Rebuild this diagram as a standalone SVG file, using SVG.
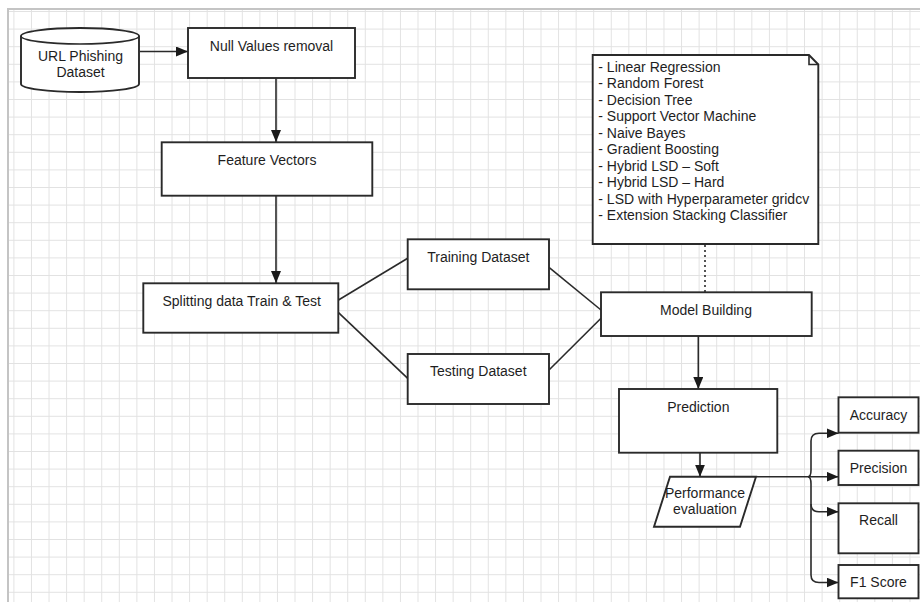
<svg xmlns="http://www.w3.org/2000/svg" width="920" height="602" viewBox="0 0 920 602">
<style>
.box{fill:#fff;stroke:#2a2a2a;stroke-width:1.9}
.ln{fill:none;stroke:#2a2a2a;stroke-width:1.6}
.t{font-family:"Liberation Sans",Arial,sans-serif;font-size:14px;fill:#1e1e1e;text-anchor:middle}
.nt{font-family:"Liberation Sans",Arial,sans-serif;font-size:14px;fill:#1e1e1e}
</style>
<defs>
<pattern id="grid" patternUnits="userSpaceOnUse" x="13.4" y="11" width="17.57" height="17.6">
<path d="M0,0.5 H17.57 M0.5,0 V17.6" fill="none" stroke="#e2e2e2" stroke-width="1"/>
</pattern>
<marker id="arr" markerUnits="userSpaceOnUse" markerWidth="12" markerHeight="10" refX="12" refY="5" orient="auto">
<path d="M0,0 L12,5 L0,10 z" fill="#1a1a1a"/>
</marker>
</defs>
<rect x="0" y="0" width="920" height="602" fill="#fff"/>
<rect x="8" y="9" width="914" height="596" fill="url(#grid)" stroke="#c4c4c4" stroke-width="2"/>

<g id="connectors">
<path class="ln" d="M140,51.5 H188" marker-end="url(#arr)"/>
<path class="ln" d="M276,78 V142" marker-end="url(#arr)"/>
<path class="ln" d="M276,196 V283" marker-end="url(#arr)"/>
<path class="ln" d="M338.5,300 L407.7,258.3"/>
<path class="ln" d="M338.5,312.7 L407.7,378.3"/>
<path class="ln" d="M549,267.3 L601,310"/>
<path class="ln" d="M549,370 L601,318.3"/>
<path class="ln" d="M705,245 V292" stroke-dasharray="2,3"/>
<path class="ln" d="M698.3,336 V389" marker-end="url(#arr)"/>
<path class="ln" d="M700,452.7 V476.7" marker-end="url(#arr)"/>
<path class="ln" d="M756,476.7 H838.5" marker-end="url(#arr)"/>
<path class="ln" d="M808,476.7 Q811,476.7 811,470 V441 Q811,433.3 819,433.3 H838.5" marker-end="url(#arr)"/>
<path class="ln" d="M808,476.7 Q811,476.7 811,484 V504 Q811,511.7 819,511.7 H838.5" marker-end="url(#arr)"/>
<path class="ln" d="M811,504 V575 Q811,582.5 819,582.5 H838.5" marker-end="url(#arr)"/>
</g>

<g id="dataset">
<path class="box" d="M21,36 A59,8 0 0 1 139,36 V84 A59,8 0 0 1 21,84 Z"/>
<path class="ln" d="M21,36 A59,8 0 0 0 139,36" stroke-width="1.9"/>
<text class="t" x="80.5" y="61">URL Phishing</text>
<text class="t" x="80.5" y="76.5">Dataset</text>
</g>
<g id="null-values">
<rect class="box" x="188" y="28" width="167" height="50"/>
<text class="t" x="271.5" y="51">Null Values removal</text>
</g>
<g id="feature-vectors">
<rect class="box" x="161.7" y="142.3" width="210.6" height="53.4"/>
<text class="t" x="267" y="165">Feature Vectors</text>
</g>
<g id="splitting">
<rect class="box" x="143.3" y="283.3" width="195" height="49.4"/>
<text class="t" x="241.7" y="305.5">Splitting data Train &amp; Test</text>
</g>
<g id="training">
<rect class="box" x="407.7" y="239.3" width="141.3" height="50"/>
<text class="t" x="478.3" y="261.5">Training Dataset</text>
</g>
<g id="testing">
<rect class="box" x="407.7" y="354" width="141.3" height="50"/>
<text class="t" x="478.3" y="375.5">Testing Dataset</text>
</g>
<g id="models-note">
<path class="box" d="M592.7,55 H809 L818.3,64.5 V244 H592.7 Z"/>
<path class="ln" d="M809,55 V64.5 H818.3" stroke-width="1.2"/>
<text class="nt" x="598.3" y="71.5">- Linear Regression</text>
<text class="nt" x="598.3" y="88">- Random Forest</text>
<text class="nt" x="598.3" y="104.5">- Decision Tree</text>
<text class="nt" x="598.3" y="121">- Support Vector Machine</text>
<text class="nt" x="598.3" y="137.5">- Naive Bayes</text>
<text class="nt" x="598.3" y="154">- Gradient Boosting</text>
<text class="nt" x="598.3" y="170.5">- Hybrid LSD – Soft</text>
<text class="nt" x="598.3" y="187">- Hybrid LSD – Hard</text>
<text class="nt" x="598.3" y="203.5">- LSD with Hyperparameter gridcv</text>
<text class="nt" x="598.3" y="220">- Extension Stacking Classifier</text>
</g>
<g id="model-building">
<rect class="box" x="601" y="292.3" width="210.7" height="43.7"/>
<text class="t" x="706" y="315">Model Building</text>
</g>
<g id="prediction">
<rect class="box" x="619" y="389" width="158.3" height="63.7"/>
<text class="t" x="698.3" y="411.5">Prediction</text>
</g>
<g id="performance">
<path class="box" d="M670,476.7 H756 L740,526.7 H654 Z"/>
<text class="t" x="705" y="498">Performance</text>
<text class="t" x="705" y="514">evaluation</text>
</g>
<g id="accuracy">
<rect class="box" x="838.5" y="397.3" width="80" height="35.4"/>
<text class="t" x="878.5" y="420">Accuracy</text>
</g>
<g id="precision">
<rect class="box" x="838.5" y="450.7" width="80" height="34.3"/>
<text class="t" x="878.5" y="472.5">Precision</text>
</g>
<g id="recall">
<rect class="box" x="838.5" y="503.3" width="80" height="50"/>
<text class="t" x="878.5" y="525">Recall</text>
</g>
<g id="f1-score">
<rect class="box" x="838.5" y="565" width="80" height="33.3"/>
<text class="t" x="878.5" y="587">F1 Score</text>
</g>
</svg>
